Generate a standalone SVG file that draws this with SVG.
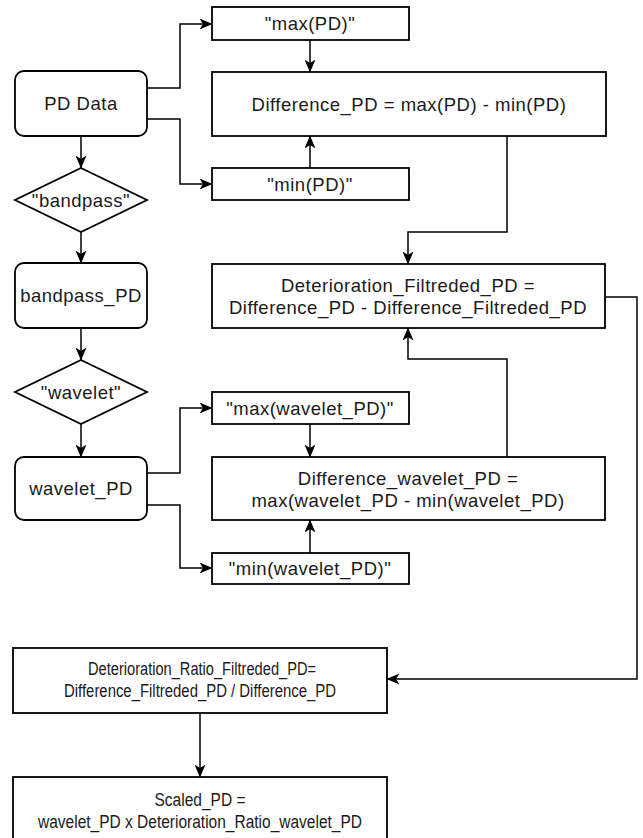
<svg xmlns="http://www.w3.org/2000/svg" width="643" height="838" viewBox="0 0 643 838">
  <defs>
    <style>
      .box { fill: #ffffff; stroke: #000000; stroke-width: 1.8; }
      .edge { fill: none; stroke: #000000; stroke-width: 1.5; marker-end: url(#arrow); }
      .lbl { font-family: "Liberation Sans", Arial, Helvetica, sans-serif; font-size: 18.5px; letter-spacing: 0.5px; fill: #1a1a1a; text-anchor: middle; }
      .narrow { font-family: "Liberation Sans", Arial, Helvetica, sans-serif; font-size: 18px; fill: #1a1a1a; text-anchor: middle; }
    </style>
    <marker id="arrow" viewBox="0 0 13 11" refX="12.5" refY="5.5" markerWidth="13" markerHeight="11" markerUnits="userSpaceOnUse" orient="auto">
      <path d="M0,0 L13,5.5 L0,11 L3.5,5.5 Z" fill="#000000"/>
    </marker>
  </defs>
  <rect width="643" height="838" fill="#ffffff"/>

  <!-- connectors -->
  <g id="connectors">
    <path class="edge" d="M147,88 H180 V24 H212"/>
    <path class="edge" d="M147,119 H180 V184 H212"/>
    <path class="edge" d="M81,136 V168"/>
    <path class="edge" d="M81,232 V263"/>
    <path class="edge" d="M81,328 V360"/>
    <path class="edge" d="M81,424 V457"/>
    <path class="edge" d="M310,40 V72"/>
    <path class="edge" d="M310,168 V136"/>
    <path class="edge" d="M507,136 V232 H408 V264"/>
    <path class="edge" d="M147,473 H180 V408 H212"/>
    <path class="edge" d="M147,505 H180 V568 H212"/>
    <path class="edge" d="M310,424 V457"/>
    <path class="edge" d="M310,553 V520"/>
    <path class="edge" d="M507,457 V359 H408 V328"/>
    <path class="edge" d="M605,297 H637 V679 H387"/>
    <path class="edge" d="M200,713 V777"/>
  </g>

  <!-- left column -->
  <g id="pd-data">
    <rect class="box" x="15" y="71" width="132" height="65" rx="9"/>
    <text class="lbl" x="81" y="110">PD Data</text>
  </g>
  <g id="bandpass">
    <polygon class="box" points="81,168 147,200 81,232 15,200"/>
    <text class="lbl" x="81" y="206.5">"bandpass"</text>
  </g>
  <g id="bandpass-pd">
    <rect class="box" x="15" y="263" width="132" height="65" rx="9"/>
    <text class="lbl" x="81" y="302">bandpass_PD</text>
  </g>
  <g id="wavelet">
    <polygon class="box" points="81,360 147,392 81,424 15,392"/>
    <text class="lbl" x="81" y="398.5">"wavelet"</text>
  </g>
  <g id="wavelet-pd">
    <rect class="box" x="15" y="457" width="132" height="63" rx="9"/>
    <text class="lbl" x="81" y="495">wavelet_PD</text>
  </g>

  <!-- raw signal range -->
  <g id="max-pd">
    <rect class="box" x="212" y="7" width="197" height="33"/>
    <text class="lbl" x="310" y="30">"max(PD)"</text>
  </g>
  <g id="difference-pd">
    <rect class="box" x="212" y="72" width="394" height="64"/>
    <text class="lbl" x="409" y="110.5">Difference_PD = max(PD) - min(PD)</text>
  </g>
  <g id="min-pd">
    <rect class="box" x="212" y="168" width="197" height="32"/>
    <text class="lbl" x="310" y="190.5">"min(PD)"</text>
  </g>

  <!-- deterioration -->
  <g id="deterioration">
    <rect class="box" x="212" y="264" width="393" height="64"/>
    <text class="lbl" x="408" y="292">Deterioration_Filtreded_PD =</text>
    <text class="lbl" x="408" y="314">Difference_PD - Difference_Filtreded_PD</text>
  </g>

  <!-- wavelet signal range -->
  <g id="max-wavelet">
    <rect class="box" x="212" y="392" width="197" height="32"/>
    <text class="lbl" x="310" y="414.5">"max(wavelet_PD)"</text>
  </g>
  <g id="difference-wavelet">
    <rect class="box" x="212" y="457" width="393" height="63"/>
    <text class="lbl" x="408" y="485">Difference_wavelet_PD =</text>
    <text class="lbl" x="408" y="507">max(wavelet_PD - min(wavelet_PD)</text>
  </g>
  <g id="min-wavelet">
    <rect class="box" x="212" y="553" width="197" height="31"/>
    <text class="lbl" x="310" y="575">"min(wavelet_PD)"</text>
  </g>

  <!-- ratio and scaling (condensed lettering) -->
  <g id="ratio">
    <rect class="box" x="13" y="648" width="374" height="65"/>
    <text class="narrow" x="202" y="675" textLength="228" lengthAdjust="spacingAndGlyphs">Deterioration_Ratio_Filtreded_PD=</text>
    <text class="narrow" x="200" y="697" textLength="272" lengthAdjust="spacingAndGlyphs">Difference_Filtreded_PD / Difference_PD</text>
  </g>
  <g id="scaled">
    <rect class="box" x="13" y="777" width="374" height="70"/>
    <text class="narrow" x="200" y="806" textLength="91" lengthAdjust="spacingAndGlyphs">Scaled_PD =</text>
    <text class="narrow" x="200" y="828" textLength="324" lengthAdjust="spacingAndGlyphs">wavelet_PD x Deterioration_Ratio_wavelet_PD</text>
  </g>
</svg>
